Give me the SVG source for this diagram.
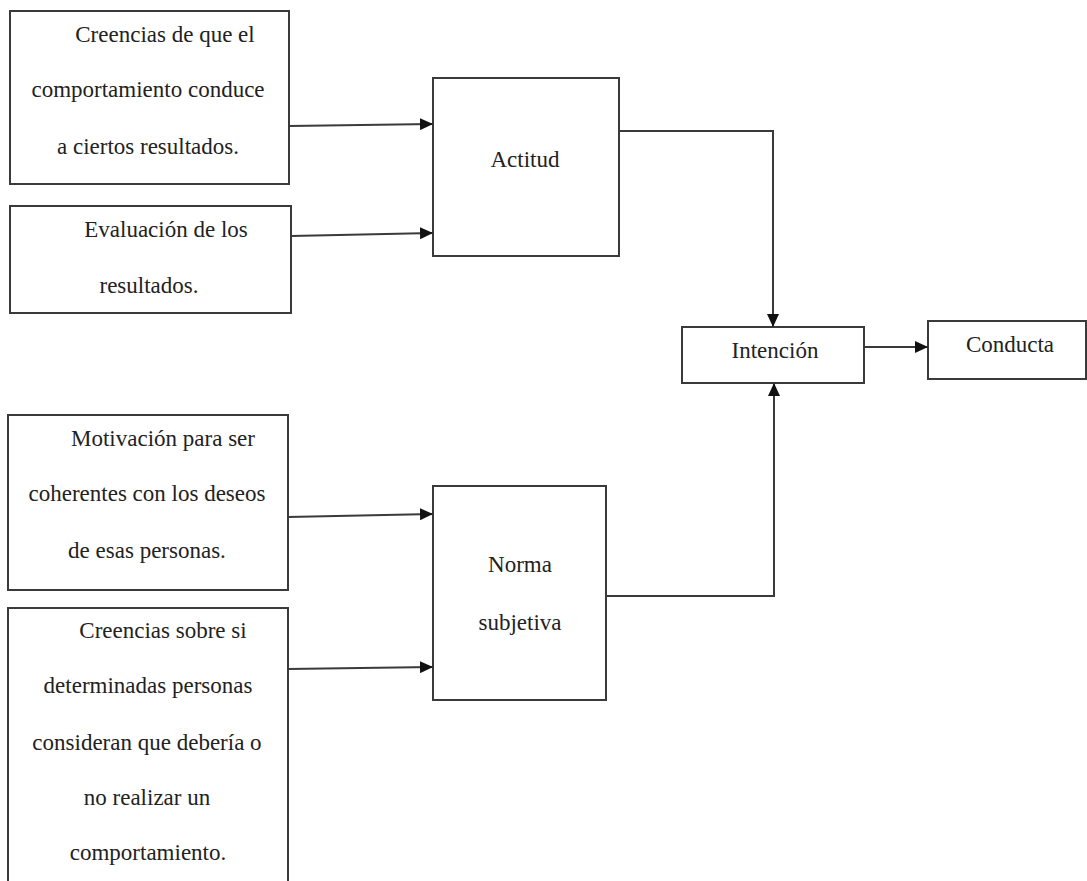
<svg xmlns="http://www.w3.org/2000/svg" width="1087" height="881" viewBox="0 0 1087 881">
  <style>
    .box { fill: #ffffff; stroke: #3a3a3a; stroke-width: 2; }
    .lbl { font-family: 'Liberation Serif', 'DejaVu Serif', serif; font-size: 23px; fill: #222222; text-anchor: middle; }
    .wire { fill: none; stroke: #3a3a3a; stroke-width: 2; }
  </style>
  <defs>
    <marker id="arrow" markerUnits="userSpaceOnUse" markerWidth="14" markerHeight="12" refX="13" refY="6" orient="auto">
      <path d="M0,0 L13,6 L0,12 Z" fill="#111111"/>
    </marker>
  </defs>
  <rect width="1087" height="881" fill="#ffffff"/>

  <g id="creencias-resultados">
    <rect class="box" x="10" y="11" width="279" height="173"/>
    <text class="lbl" x="165" y="42">Creencias de que el</text>
    <text class="lbl" x="148" y="97">comportamiento conduce</text>
    <text class="lbl" x="148" y="154">a ciertos resultados.</text>
  </g>

  <g id="evaluacion">
    <rect class="box" x="10" y="206" width="281" height="107"/>
    <text class="lbl" x="166" y="237">Evaluación de los</text>
    <text class="lbl" x="149" y="293">resultados.</text>
  </g>

  <g id="motivacion">
    <rect class="box" x="8" y="415" width="280" height="175"/>
    <text class="lbl" x="163" y="446">Motivación para ser</text>
    <text class="lbl" x="147" y="501">coherentes con los deseos</text>
    <text class="lbl" x="147" y="558">de esas personas.</text>
  </g>

  <g id="creencias-personas">
    <rect class="box" x="8" y="608" width="280" height="300"/>
    <text class="lbl" x="163" y="638">Creencias sobre si</text>
    <text class="lbl" x="148" y="693">determinadas personas</text>
    <text class="lbl" x="147" y="750">consideran que debería o</text>
    <text class="lbl" x="147" y="805">no realizar un</text>
    <text class="lbl" x="148" y="860">comportamiento.</text>
  </g>

  <g id="actitud">
    <rect class="box" x="433" y="78" width="186" height="178"/>
    <text class="lbl" x="525" y="167">Actitud</text>
  </g>

  <g id="norma-subjetiva">
    <rect class="box" x="433" y="486" width="173" height="214"/>
    <text class="lbl" x="520" y="572">Norma</text>
    <text class="lbl" x="520" y="630">subjetiva</text>
  </g>

  <g id="intencion">
    <rect class="box" x="682" y="327" width="182" height="56"/>
    <text class="lbl" x="775" y="358">Intención</text>
  </g>

  <g id="conducta">
    <rect class="box" x="928" y="321" width="158" height="58"/>
    <text class="lbl" x="1010" y="352">Conducta</text>
  </g>

  <g id="connectors">
    <line class="wire" x1="289" y1="126" x2="433" y2="124" marker-end="url(#arrow)"/>
    <line class="wire" x1="291" y1="236" x2="433" y2="233" marker-end="url(#arrow)"/>
    <polyline class="wire" points="619,131 773,131 773,327" marker-end="url(#arrow)"/>
    <line class="wire" x1="864" y1="347" x2="928" y2="347" marker-end="url(#arrow)"/>
    <line class="wire" x1="288" y1="517" x2="433" y2="514" marker-end="url(#arrow)"/>
    <line class="wire" x1="288" y1="669" x2="433" y2="667" marker-end="url(#arrow)"/>
    <polyline class="wire" points="606,596 774,596 774,383" marker-end="url(#arrow)"/>
  </g>
</svg>
